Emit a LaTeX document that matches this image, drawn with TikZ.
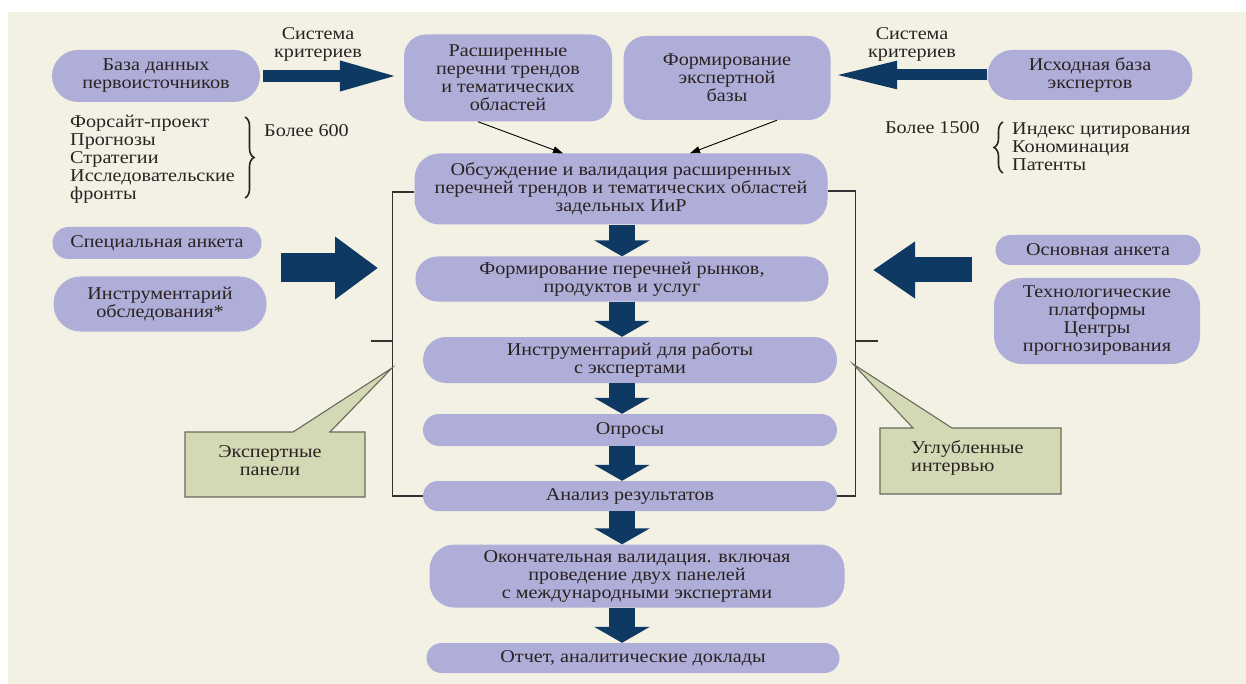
\documentclass[tikz,border=0pt]{standalone}
\usepackage{fontspec}
\setmainfont{Liberation Serif}[FakeStretch=1.12]
\usetikzlibrary{arrows.meta,calc,decorations.pathreplacing}
\definecolor{cream}{HTML}{F3F1E4}
\definecolor{lav}{HTML}{AFAED8}
\definecolor{navy}{HTML}{0E3962}
\definecolor{callg}{HTML}{D2D9B4}
\definecolor{callb}{HTML}{6A6A5C}
\definecolor{txt}{HTML}{2A2222}
\definecolor{framec}{HTML}{333333}
\begin{document}
\begin{tikzpicture}[x=1pt,y=-1pt,
  every node/.style={font=\fontsize{18}{18}\selectfont, text=txt, inner sep=0pt},
  bx/.style={fill=lav, align=center},
  lbl/.style={align=center},
  framel/.style={draw=framec, line width=1.3pt},
  thinarr/.style={draw=black, line width=0.9pt, -{Triangle[length=10pt,width=7pt]}},
  varr/.style={draw=navy, line width=26pt, -{Triangle[width=55pt,length=16pt]}},
  callout/.style={fill=callg, draw=callb, line width=1.1pt, line join=miter},
  bracel/.style={decorate, decoration={brace, amplitude=9pt}, draw=txt, line width=1.6pt}
]
\useasboundingbox (0,0) rectangle (1246,684);
\fill[white] (0,0) rectangle (1246,684);
\fill[cream] (8,12) rectangle (1246,684);

% top row
\node[bx, minimum width=208pt, minimum height=52pt, rounded corners=26pt] (baza) at (156,76) {База данных\\первоисточников};
\node[bx, minimum width=208pt, minimum height=87pt, rounded corners=22pt] (rassh) at (508,78) {Расширенные\\перечни трендов\\и тематических\\областей};
\node[bx, minimum width=207pt, minimum height=84pt, rounded corners=22pt] (form) at (727,78) {Формирование\\экспертной\\базы};
\node[bx, minimum width=205pt, minimum height=50pt, rounded corners=25pt] (isx) at (1090,75) {Исходная база\\экспертов};
\node[lbl] (sk1) at (318,44) {Система\\критериев};
\node[lbl] (sk2) at (912,44) {Система\\критериев};

\draw[navy, line width=12pt, -{Triangle[width=27pt,length=60pt]}, shorten <=3pt, shorten >=4pt] (baza.east) -- (baza.east -| rassh.west);
\draw[navy, line width=11pt, -{Triangle[width=25pt,length=65pt]}, shorten >=1.5pt] (isx.west) -- (isx.west -| form.east);

% lists
\node[align=left, anchor=west] (list1) at (70,159) {Форсайт-проект\\Прогнозы\\Стратегии\\Исследовательские\\фронты};
\node[anchor=west] (b600) at (264,131) {Более 600};
\draw[bracel] (245,117) -- (245,198);
\node[anchor=east] (b1500) at (980,128) {Более 1500};
\node[align=left, anchor=west] (list2) at (1012,147) {Индекс цитирования\\Кономинация\\Патенты};
\draw[bracel] (1003,173) -- (1003,122);

% central column
\node[bx, minimum width=413pt, minimum height=71pt, rounded corners=25pt] (obs) at (621,189) {Обсуждение и валидация расширенных\\перечней трендов и тематических областей\\задельных ИиР};
\node[bx, minimum width=413pt, minimum height=45pt, rounded corners=22pt] (fpr) at (622,279) {Формирование перечней рынков,\\продуктов и услуг};
\node[bx, minimum width=414pt, minimum height=46pt, rounded corners=23pt] (instr) at (630,360) {Инструментарий для работы\\с экспертами};
\node[bx, minimum width=414pt, minimum height=32pt, rounded corners=16pt] (opr) at (630,430) {Опросы};
\node[bx, minimum width=414pt, minimum height=30pt, rounded corners=15pt] (anal) at (630,496) {Анализ результатов};
\node[bx, minimum width=415pt, minimum height=63pt, rounded corners=25pt] (okon) at (637,576) {Окончательная валидация. включая\\проведение двух панелей\\с международными экспертами};
\node[bx, minimum width=413pt, minimum height=30pt, rounded corners=15pt] (otch) at (633,658) {Отчет, аналитические доклады};

\draw[thinarr] ($(rassh.south)+(-30,0)$) -- ($(obs.north)+(-58,0)$);
\draw[thinarr] ($(form.south)+(50,0)$) -- ($(obs.north)+(69,0)$);

\coordinate (col) at (622,0);
\foreach \a/\b in {obs/fpr, fpr/instr, instr/opr, opr/anal, anal/okon, okon/otch}
  \draw[varr] (\a.south -| col) -- (\b.north -| col);

% frame
\draw[framel] ($(obs.west)+(0,3)$) -- ++(-22,0) |- (anal.west);
\draw[framel] ($(obs.east)+(0,2)$) -- ++(28,0) |- (anal.east);
\coordinate (tl1) at (371,341); \coordinate (tl2) at (393,341);
\coordinate (tr1) at (856,341); \coordinate (tr2) at (878,341);
\draw[framel] (tl1) -- (tl2);
\draw[framel] (tr1) -- (tr2);

% side inputs
\node[bx, minimum width=209pt, minimum height=32pt, rounded corners=16pt] (spec) at (157,243) {Специальная анкета};
\node[bx, minimum width=213pt, minimum height=55pt, rounded corners=27pt] (instro) at (160,304) {Инструментарий\\обследования*};
\node[bx, minimum width=205pt, minimum height=30pt, rounded corners=15pt] (osn) at (1098,250) {Основная анкета};
\node[bx, minimum width=206pt, minimum height=86pt, rounded corners=28pt] (tech) at (1097,321) {Технологические\\платформы\\Центры\\прогнозирования};

\coordinate (la1) at (281,268); \coordinate (la2) at (378,268);
\coordinate (ra1) at (972,270); \coordinate (ra2) at (873,270);
\draw[navy, line width=29pt, -{Triangle[width=60pt,length=43pt]}] (la1) -- (la2);
\draw[navy, line width=25pt, -{Triangle[width=54pt,length=42pt]}] (ra1) -- (ra2);

% callouts
\filldraw[callout] (185,432) -- (293,432) -- (392,368) -- (330,432) -- (365,432) -- (365,497) -- (185,497) -- cycle;
\node[lbl] (ep) at (270,461) {Экспертные\\панели};
\filldraw[callout] (880,428) -- (913,428) -- (853,364) -- (952,428) -- (1061,428) -- (1061,494) -- (880,494) -- cycle;
\node[align=left, anchor=west] (ui) at (911,458) {Углубленные\\интервью};
\end{tikzpicture}
\end{document}
